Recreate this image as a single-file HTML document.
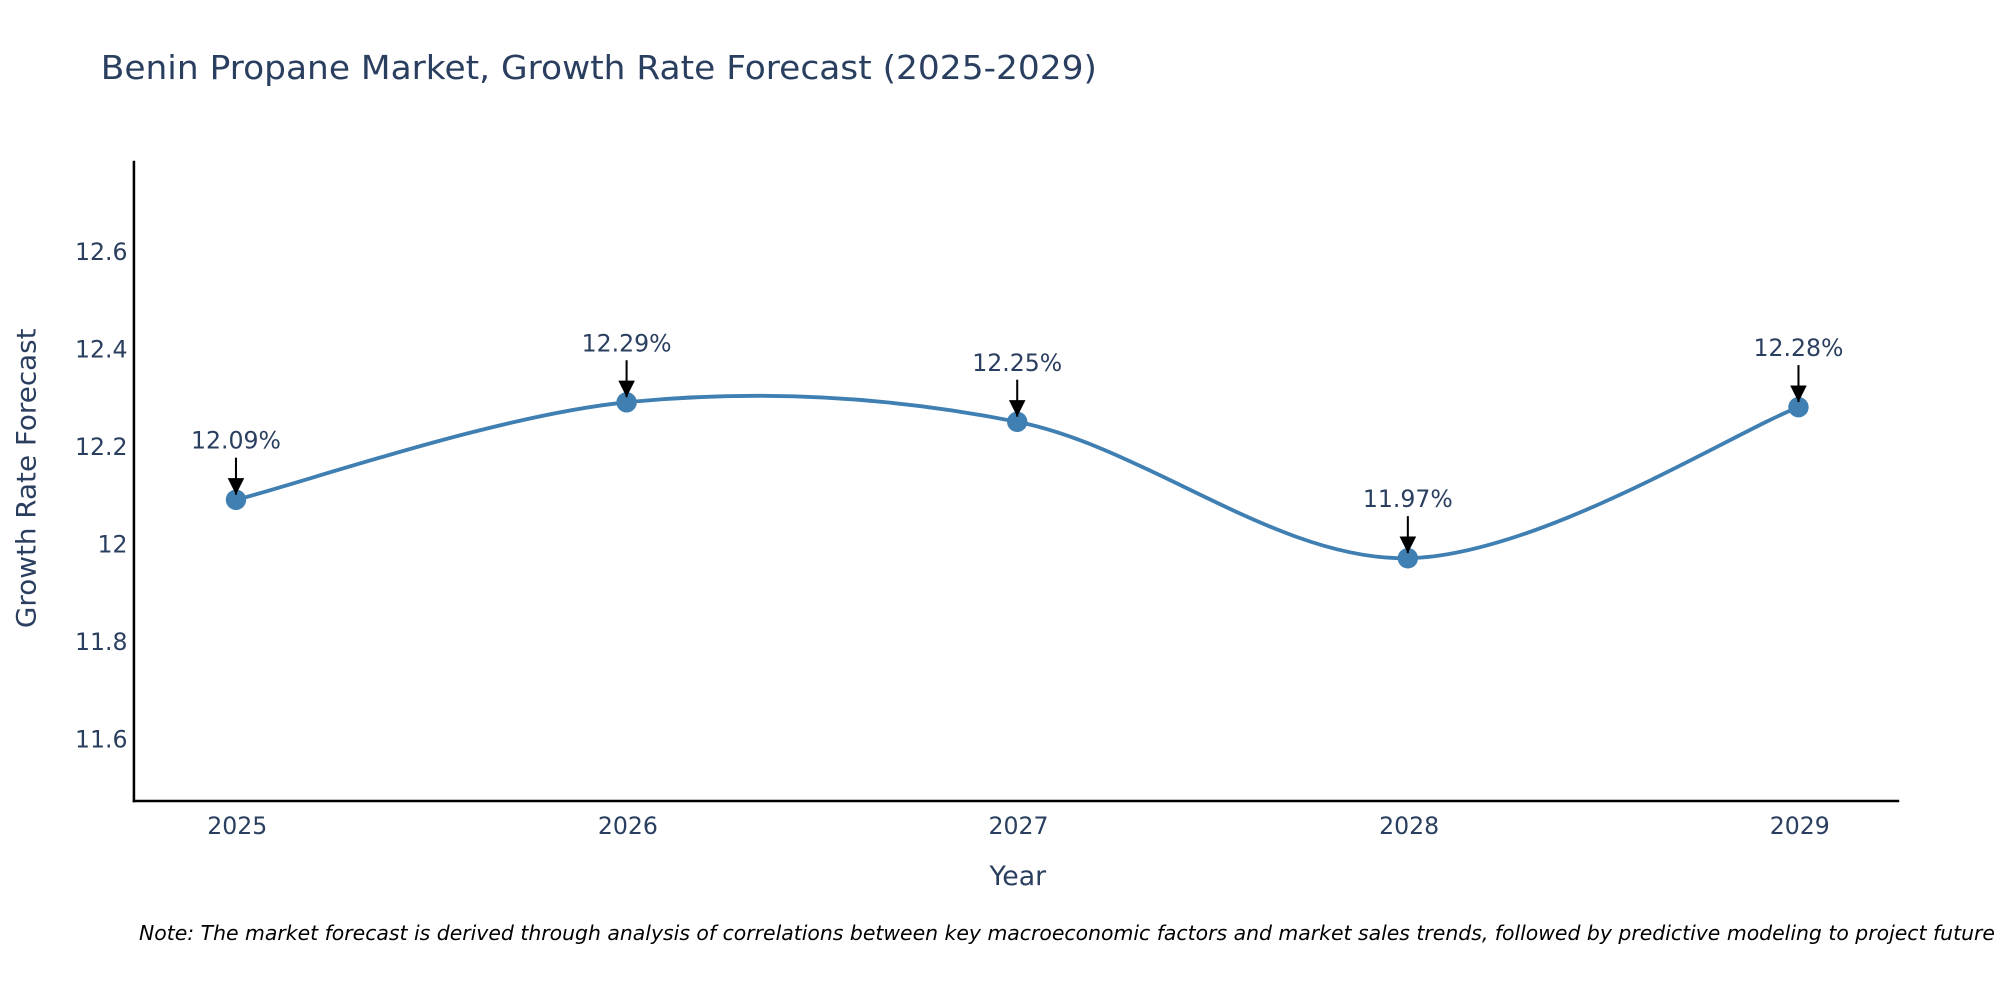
<!DOCTYPE html>
<html><head><meta charset="utf-8"><style>
html,body{margin:0;padding:0;background:#fff;}
svg{display:block;font-family:"DejaVu Sans","Liberation Sans",sans-serif;}
</style></head><body>
<svg id="chart" width="2000" height="1000" viewBox="0 0 1568 784" xmlns="http://www.w3.org/2000/svg">
<defs><marker id="ah" markerWidth="13" markerHeight="13" refX="10" refY="5" orient="auto" markerUnits="userSpaceOnUse" viewBox="0 0 10 10"><path d="M0,0 L10,5 L0,10 z" fill="#000"/></marker></defs>
<text x="79" y="62" font-size="26" fill="#2a3f5f" textLength="781" lengthAdjust="spacingAndGlyphs">Benin Propane Market, Growth Rate Forecast (2025-2029)</text>
<g id="yticks"></g><g id="xticks"></g>
<line x1="105" y1="126" x2="105" y2="629" stroke="#000" stroke-width="2"/>
<line x1="104" y1="628" x2="1489" y2="628" stroke="#000" stroke-width="2"/>
<path id="line" fill="none" stroke="#3f7fb2" stroke-width="3"/>
<g id="marks"></g>
<text x="798" y="694" font-size="21" fill="#2a3f5f" text-anchor="middle">Year</text>
<text transform="translate(28,375) rotate(-90)" font-size="21" fill="#2a3f5f" text-anchor="middle" textLength="235" lengthAdjust="spacingAndGlyphs">Growth Rate Forecast</text>
<text x="109" y="737" font-size="16" font-style="italic" fill="#000">Note: The market forecast is derived through analysis of correlations between key macroeconomic factors and market sales trends, followed by predictive modeling to project future sales.</text>
</svg>
<script>
const years = [2025, 2026, 2027, 2028, 2029];
const rates = [12.09, 12.29, 12.25, 11.97, 12.28];
const yTicks = [11.6, 11.8, 12, 12.2, 12.4, 12.6];
const yTickLabels = ["11.6", "11.8", "12", "12.2", "12.4", "12.6"];
const labels = ["12.09%", "12.29%", "12.25%", "11.97%", "12.28%"];

const NS = "http://www.w3.org/2000/svg";
function xs(v){ return 185 + (v - 2025) * 306.25; }
function ys(v){ return 579 - (v - 11.6) * 382; }
function mk(tag, attrs, parent){ const e = document.createElementNS(NS, tag); for (const k in attrs) e.setAttribute(k, attrs[k]); parent.appendChild(e); return e; }

const yg = document.getElementById('yticks');
yTicks.forEach((t, i) => {
  const e = mk('text', {x: 100, y: ys(t) + 7, 'font-size': 18.5, fill: '#2a3f5f', 'text-anchor': 'end'}, yg);
  
  
  e.textContent = yTickLabels[i];
});
const xg = document.getElementById('xticks');
years.forEach(y => {
  const e = mk('text', {x: xs(y) + 1, y: 654, 'font-size': 18.5, fill: '#2a3f5f', 'text-anchor': 'middle'}, xg);
  
  
  e.textContent = String(y);
});

const pts = years.map((y, i) => [xs(y), ys(rates[i])]);
let d = 'M' + pts[0][0] + ',' + pts[0][1];
for (let i = 0; i < pts.length - 1; i++) {
  const p0 = pts[Math.max(0, i - 1)], p1 = pts[i], p2 = pts[i + 1], p3 = pts[Math.min(pts.length - 1, i + 2)];
  const c1 = [p1[0] + (p2[0] - p0[0]) / 6, p1[1] + (p2[1] - p0[1]) / 6];
  const c2 = [p2[0] - (p3[0] - p1[0]) / 6, p2[1] - (p3[1] - p1[1]) / 6];
  d += ' C' + c1 + ' ' + c2 + ' ' + p2;
}
document.getElementById('line').setAttribute('d', d);

const mg = document.getElementById('marks');
pts.forEach((p, i) => {
  const c = mk('circle', {cx: p[0], cy: p[1], r: 8, fill: '#3f7fb2'}, mg);
  
  
  const a = mk('line', {x1: p[0], y1: p[1] - 33, x2: p[0], y2: p[1] - 4, stroke: '#000', 'stroke-width': 1.6, 'marker-end': 'url(#ah)'}, mg);
  
  
  const t = mk('text', {x: p[0], y: p[1] - 40, 'font-size': 18.5, fill: '#2a3f5f', 'text-anchor': 'middle'}, mg);
  
  
  t.textContent = labels[i];
});
</script>
</body></html>
